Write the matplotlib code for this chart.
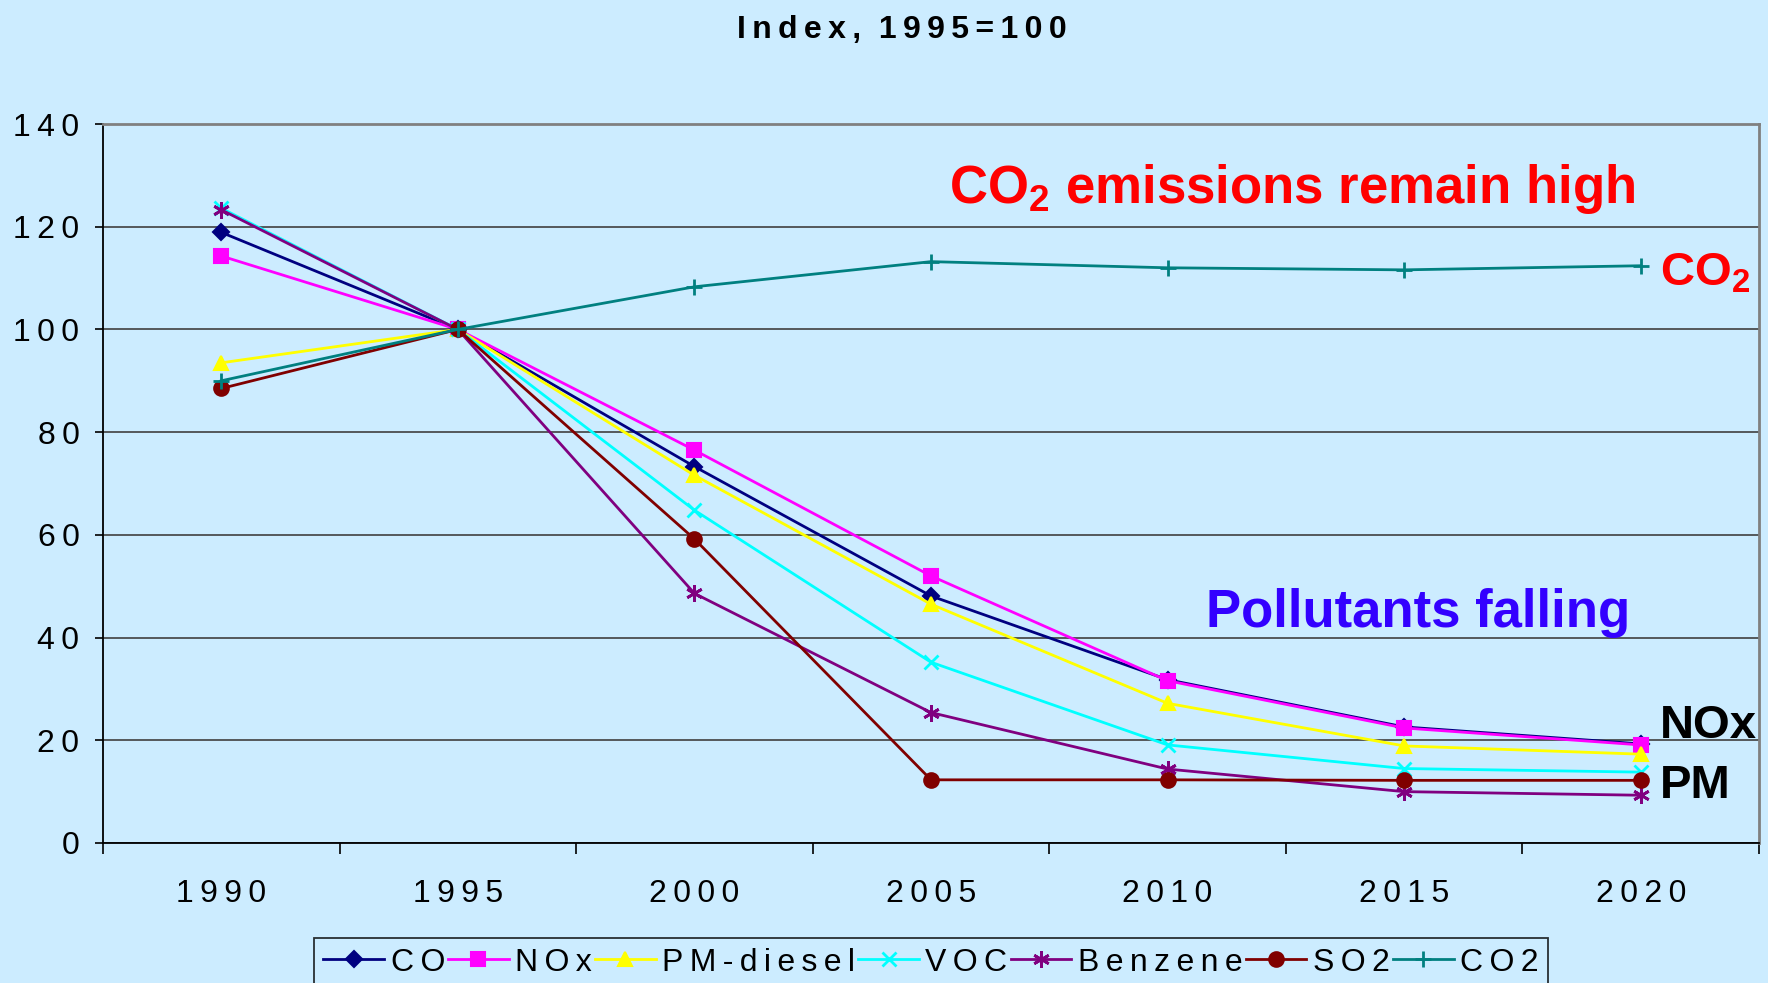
import matplotlib
matplotlib.use('Agg')
import matplotlib.pyplot as plt
import numpy as np

# ---- data ----
years = ['1990', '1995', '2000', '2005', '2010', '2015', '2020']
co = [118.9, 100, 73.3, 48.1, 31.8, 22.6, 19.3]
nox = [114.3, 100, 76.5, 52.0, 31.6, 22.4, 19.1]
pm_diesel = [93.5, 100, 71.6, 46.5, 27.2, 18.9, 17.3]
voc = [123.6, 100, 64.8, 35.2, 19.1, 14.5, 13.8]
benzene = [123.3, 100, 48.6, 25.4, 14.4, 10.0, 9.3]
so2 = [88.5, 100, 59.2, 12.3, 12.3, 12.2, 12.2]
co2 = [90.0, 100, 108.3, 113.2, 112.0, 111.6, 112.4]
series_names = ['CO', 'NOx', 'PM-diesel', 'VOC', 'Benzene', 'SO2', 'CO2']
y_ticks = [0, 20, 40, 60, 80, 100, 120, 140]

# ---- fonts ----
FAM = ['Liberation Sans', 'DejaVu Sans']
TFS = 23
plt.rcParams['font.family'] = FAM
plt.rcParams['mathtext.fontset'] = 'custom'
plt.rcParams['mathtext.rm'] = 'Liberation Sans:bold'
plt.rcParams['mathtext.bf'] = 'Liberation Sans:bold'
plt.rcParams['mathtext.it'] = 'Liberation Sans:bold'

THIN = '\u2009'


def spaced(s):
    return THIN.join(s)


BG = '#CCECFF'
fig = plt.figure(figsize=(17.68, 9.83), dpi=100, facecolor=BG)
ax = fig.add_axes([103 / 1768, 1 - 843 / 983, (1759 - 103) / 1768, (843 - 124) / 983])
ax.set_facecolor(BG)

x = np.arange(len(years))
styles = [
    (co, '#000080', 'D', 8, 1.5),
    (nox, '#FF00FF', 's', 10.5, 1.5),
    (pm_diesel, '#FFFF00', '^', 10.5, 1.5),
    (voc, '#00FFFF', 'x', 10, 2.0),
    (benzene, '#800080', (6, 2, 0), 12, 2.0),
    (so2, '#800000', 'o', 10.5, 1.5),
    (co2, '#008080', '+', 11, 2.0),
]
handles = []
for (vals, col, mk, ms, mew), name in zip(styles, series_names):
    ln, = ax.plot(x, vals, color=col, lw=2.0, marker=mk, ms=ms,
                  mfc=col, mec=col, mew=mew, label=spaced(name), zorder=3)
    handles.append(ln)

ax.set_xlim(-0.5, 6.5)
ax.set_ylim(0, 140)
ax.set_yticks(y_ticks)
ax.set_yticklabels([spaced(str(v)) for v in y_ticks], family=FAM, fontsize=TFS)
ax.yaxis.grid(True, color='#404040', lw=1.2, zorder=1)
ax.set_axisbelow(True)

ax.set_xticks(np.arange(-0.5, 7, 1))
ax.set_xticklabels([])
ax.set_xticks(x, minor=True)
ax.set_xticklabels([spaced(y) for y in years], minor=True, family=FAM, fontsize=TFS)
ax.tick_params(axis='x', which='major', length=8, width=1.2, color='black', direction='out')
ax.tick_params(axis='x', which='minor', length=0, pad=26)
ax.tick_params(axis='y', length=6, width=1.2, pad=11, direction='out')

ax.spines['left'].set_color('black')
ax.spines['bottom'].set_color('black')
ax.spines['left'].set_linewidth(1.3)
ax.spines['bottom'].set_linewidth(1.3)
for s in ('top', 'right'):
    ax.spines[s].set_color('#808080')
    ax.spines[s].set_linewidth(2)

# annotations
ax.text(3.077, 124.6, r'CO$_{2}$ emissions remain high', color='#FF0000',
        fontsize=38, fontweight='bold', ha='left', va='baseline')
ax.text(4.163, 42.1, 'Pollutants falling', color='#3300FF',
        fontsize=38, fontweight='bold', ha='left', va='baseline')
ax.text(6.08, 108.6, r'CO$_{2}$', color='#FF0000', fontsize=34,
        fontweight='bold', ha='left', va='baseline')
ax.text(6.08, 20.4, 'NOx', color='black', fontsize=34,
        fontweight='bold', ha='left', va='baseline')
ax.text(6.08, 8.8, 'PM', color='black', fontsize=34,
        fontweight='bold', ha='left', va='baseline')

# title
fig.text(0.51, 1 - 38 / 983, spaced('Index,') + '  ' + spaced('1995=100'),
         family=FAM, fontsize=23, fontweight='bold',
         ha='center', va='baseline')

leg = fig.legend(handles=handles, loc='upper center',
                 bbox_to_anchor=(931 / 1768, 1 - 938 / 983), ncol=7,
                 prop={'family': FAM, 'size': TFS}, frameon=True, fancybox=False,
                 handlelength=1.9, handletextpad=0.2, columnspacing=0.1,
                 borderpad=0.3, borderaxespad=0)
leg.get_frame().set_facecolor(BG)
leg.get_frame().set_edgecolor('black')
leg.get_frame().set_linewidth(1.3)

fig.savefig('out.png', dpi=100, facecolor=BG)
